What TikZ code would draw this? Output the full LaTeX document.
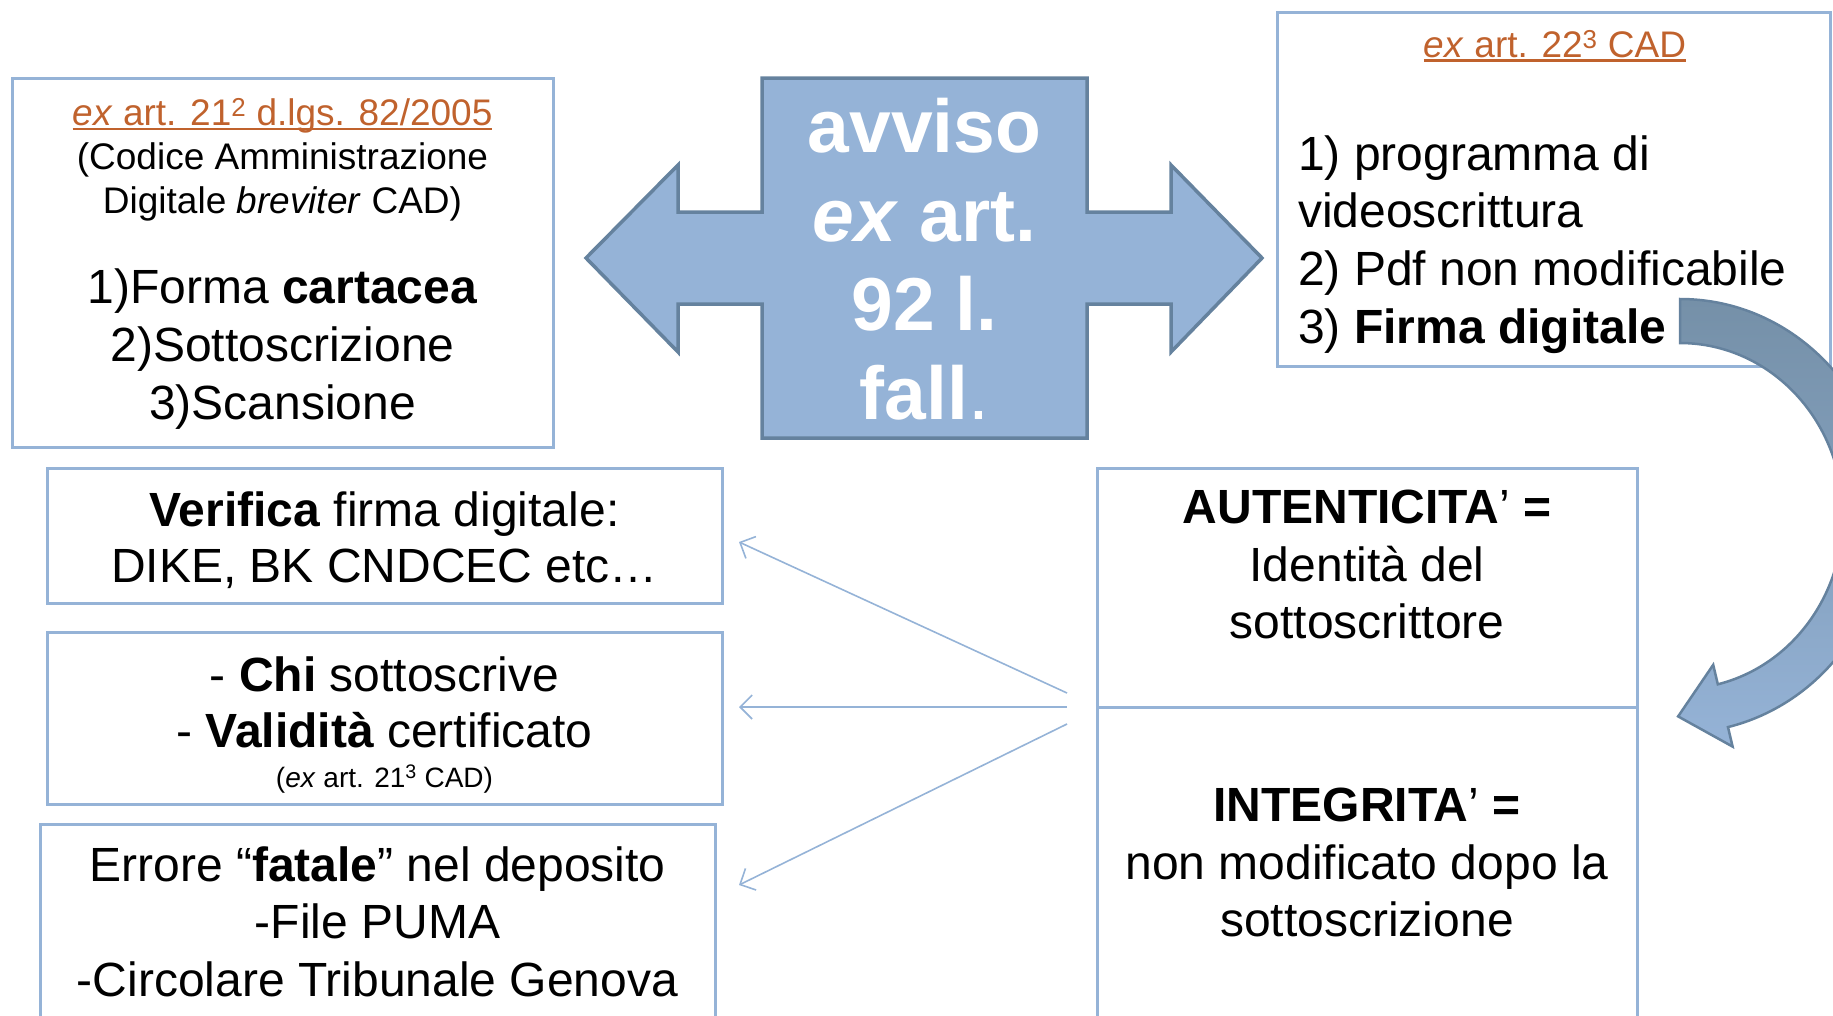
\documentclass[tikz,border=0pt]{standalone}
\usepackage{fontspec}
\setmainfont{Liberation Sans}
\usetikzlibrary{arrows.meta}
\definecolor{boxc}{HTML}{95B3D7}
\definecolor{edgec}{HTML}{65829E}
\definecolor{arrdark}{HTML}{7590A8}
\definecolor{orng}{HTML}{C0622D}
\newcommand\myul[1]{\setbox0\hbox{#1}\rlap{\rule[-0.11em]{\wd0}{0.065em}}\box0}
\begin{document}
\begin{tikzpicture}[x=1pt,y=-1pt,
  box/.style={draw=boxc,line width=3,inner sep=0},
  txt/.style={align=center,inner sep=0,font=\fontsize{48}{57.7}\selectfont,
    execute at begin node=\strut,execute at end node=\strut},
  small/.style={align=center,inner sep=0,font=\fontsize{37}{44}\selectfont,
    execute at begin node=\strut,execute at end node=\strut},
  tiny/.style={align=center,inner sep=0,font=\fontsize{28}{34}\selectfont},
  conn/.style={draw=boxc,line width=1.6,-{Straight Barb[length=12pt,width=24pt]}}]
\useasboundingbox (0,0) rectangle (1833,1015);
\clip (0,0) rectangle (1833,1015);
% boxes
\node[box,minimum width=541,minimum height=369] (lbox) at (282.5,262.5) {};
\node[box,minimum width=553,minimum height=354] (rbox) at (1553.5,189) {};
\node[box,minimum width=675,minimum height=135] (verbox) at (384.5,535.5) {};
\node[box,minimum width=675,minimum height=172] (chibox) at (384.5,718) {};
\node[box,minimum width=675,minimum height=216] (errbox) at (377.5,932) {};
\node[box,minimum width=540,minimum height=239] (autbox) at (1367,587.5) {};
\node[box,minimum width=540,minimum height=333] (intbox) at (1367,873.5) {};
% central double arrow
\path[fill=boxc,draw=edgec,line width=3.5,line join=miter]
  (762,78) -- (1087,78) -- (1087,212) -- (1171,212) -- (1171,165) -- (1262,258)
  -- (1171,352) -- (1171,304) -- (1087,304) -- (1087,438) -- (762,438)
  -- (762,304) -- (678,304) -- (678,352) -- (586,258) -- (678,165)
  -- (678,212) -- (762,212) -- cycle;
\node[align=center,inner sep=0,text=white,font=\fontsize{75}{89}\selectfont\bfseries,
  execute at begin node=\strut,execute at end node=\strut] (avviso) at (924.5,272)
  {avviso\\\textit{ex} art.\\92 l.\\fall{\mdseries.}};
% left top box text
\node[small] (lhead) at (282.5,163)
  {\textcolor{orng}{\myul{\textit{ex} art. 21\textsuperscript{2} d.lgs. 82/2005}}\\(Codice Amministrazione\\Digitale \textit{breviter} CAD)};
\node[txt,font=\fontsize{48}{58}\selectfont] (llist) at (282.5,353)
  {1)Forma \textbf{cartacea}\\2)Sottoscrizione\\3)Scansione};
% right top box text
\node[small,execute at begin node={},execute at end node={}] (rtitle) at (1555,49)
  {\textcolor{orng}{\myul{\textit{ex} art. 22\textsuperscript{3} CAD}}};
\node[txt,align=left,anchor=west] (rlist) at (1298,248)
  {1) programma di\\videoscrittura\\2) Pdf non modificabile\\3) \textbf{Firma digitale}};
% curved arrow
\path[draw=edgec,line width=2.5,top color=arrdark,bottom color=boxc,middle color=arrdark!55!boxc]
  (1680,299) arc[start angle=-90,end angle=76.6,x radius=207,y radius=217]
  -- (1732.6,746.6) -- (1678.1,716.4) -- (1713.2,664.8) -- (1717.8,684.3)
  arc[start angle=76.6,end angle=-90,x radius=163,y radius=173] -- cycle;
% bottom left texts
\node[txt,font=\fontsize{48}{56}\selectfont] (vertxt) at (384.5,545)
  {\textbf{Verifica} firma digitale:\\DIKE, BK CNDCEC etc…};
\node[txt,font=\fontsize{48}{56}\selectfont] (chitxt) at (384.5,710)
  {- \textbf{Chi} sottoscrive\\- \textbf{Validità} certificato};
\node[tiny] (cadtxt) at (384.5,779) {(\textit{ex} art. 21\textsuperscript{3} CAD)};
\node[txt] (errtxt) at (377.5,930)
  {Errore “\textbf{fatale}” nel deposito\\-File PUMA\\-Circolare Tribunale Genova};
% right lower texts
\node[txt] (auttxt) at (1367,573)
  {\textbf{AUTENTICITA}’ \textbf{=}\\Identità del\\sottoscrittore};
\node[txt] (inttxt) at (1367,871)
  {\textbf{INTEGRITA}’ \textbf{=}\\non modificato dopo la\\sottoscrizione};
% connectors
\coordinate (s1) at (1067,693);
\coordinate (s2) at (1067,707);
\coordinate (s3) at (1067,724);
\coordinate (e1) at (739,542);
\coordinate (e2) at (739,707);
\coordinate (e3) at (739,885);
\draw[conn] (s1) -- (e1);
\draw[conn] (s2) -- (e2);
\draw[conn] (s3) -- (e3);
\end{tikzpicture}
\end{document}
